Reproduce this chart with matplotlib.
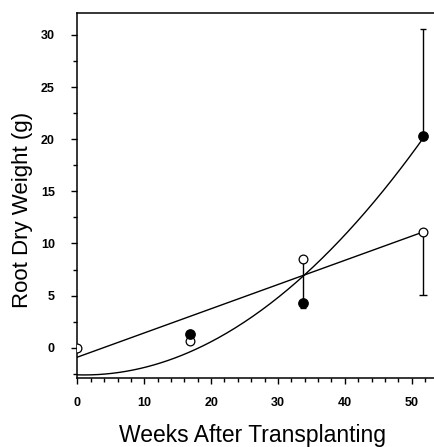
import numpy as np
import matplotlib
matplotlib.use("Agg")
import matplotlib.pyplot as plt
from matplotlib.ticker import MultipleLocator

# Data
weeks = [0, 16.8, 33.7, 51.7]
open_vals = [0.0, 0.6, 8.5, 11.1]
open_err_low = [0.0, 0.0, 4.1, 6.0]
filled_weeks = [16.8, 33.7, 51.7]
filled_vals = [1.3, 4.3, 20.3]
filled_err_low = [0.0, 0.5, 0.0]
filled_err_high = [0.0, 0.0, 10.3]

# Fitted curves (coefficients, highest power first)
linear_fit = [0.232, -0.9]
quad_fit = [0.00882, -0.0176, -2.6]
fit_range = [0, 51.7]

xticks = [0, 10, 20, 30, 40, 50]
yticks = [0, 5, 10, 15, 20, 25, 30]

plt.rcParams['font.family'] = ['Liberation Sans', 'DejaVu Sans']

fig = plt.figure(figsize=(4.35, 4.47), dpi=100)
ax = fig.add_axes([0.178, 0.1544, 0.822, 0.8166])

xs = np.linspace(fit_range[0], fit_range[1], 200)
ax.plot(xs, np.polyval(linear_fit, xs), color='black', lw=1.0, zorder=2)
ax.plot(xs, np.polyval(quad_fit, xs), color='black', lw=1.0, zorder=2)

ax.errorbar(weeks, open_vals, yerr=[open_err_low, [0]*len(weeks)], fmt='none',
            ecolor='black', elinewidth=1.0, capsize=3.2, capthick=1.0, zorder=3)
ax.errorbar(filled_weeks, filled_vals, yerr=[filled_err_low, filled_err_high], fmt='none',
            ecolor='black', elinewidth=1.0, capsize=2.5, capthick=1.0, zorder=3)

ax.plot(weeks, open_vals, 'o', ms=6.3, mfc='white', mec='black', mew=0.9, zorder=4)
ax.plot(filled_weeks, filled_vals, 'o', ms=6.8, mfc='black', mec='black', mew=0.9, zorder=5)

ax.set_xlim(0, 53.5)
ax.set_ylim(-2.9, 32.1)
ax.set_xticks(xticks)
ax.set_yticks(yticks)
ax.xaxis.set_minor_locator(MultipleLocator(2))
ax.yaxis.set_minor_locator(MultipleLocator(2.5))

for s in ['left', 'bottom', 'top']:
    ax.spines[s].set_linewidth(1.1)
ax.spines['right'].set_visible(False)

ax.tick_params(axis='both', which='major', direction='out', length=4.3, width=1.0,
               labelsize=9)
ax.tick_params(axis='both', which='minor', direction='out', length=3.0, width=1.0)
ax.tick_params(axis='y', which='major', pad=12.0)
ax.tick_params(axis='x', which='major', pad=9.5)
for lab in ax.get_xticklabels() + ax.get_yticklabels():
    lab.set_fontweight('bold')

fig.text(0.0506, 0.530, 'Root Dry Weight (g)', rotation=90, ha='center', va='center',
         fontsize=16)
fig.text(0.5816, 0.0268, 'Weeks After Transplanting', ha='center', va='center',
         fontsize=16.5)

fig.savefig('out.png', dpi=100)
